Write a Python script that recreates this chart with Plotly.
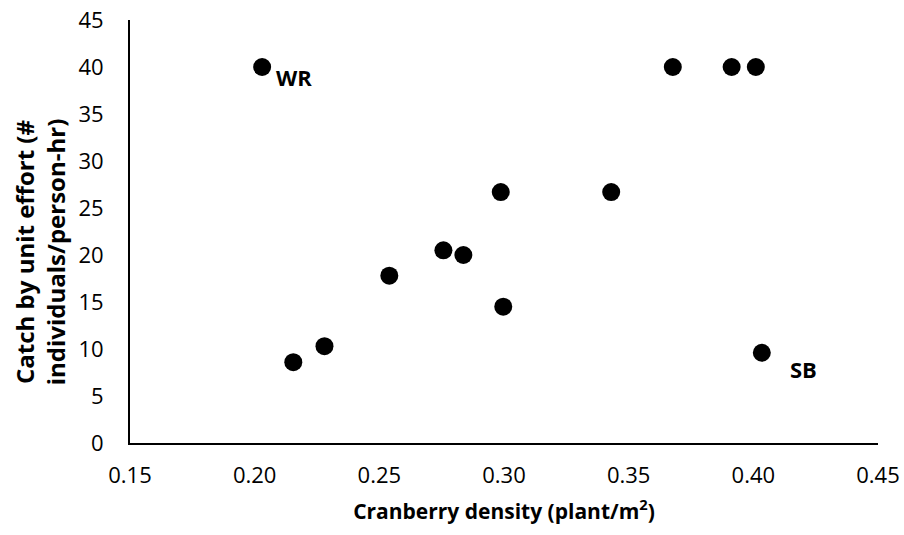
import plotly.graph_objects as go

density = [0.203, 0.2155, 0.228, 0.254, 0.2757, 0.2837, 0.2987, 0.2997, 0.343, 0.3677, 0.3913, 0.401, 0.4034]
cpue = [40.0, 8.6, 10.3, 17.8, 20.5, 20.0, 26.7, 14.5, 26.7, 40.0, 40.0, 40.0, 9.6]
labels = ["WR", "", "", "", "", "", "", "", "", "", "", "", "SB"]

x_ticks = [0.15, 0.20, 0.25, 0.30, 0.35, 0.40, 0.45]
y_ticks = [0, 5, 10, 15, 20, 25, 30, 35, 40, 45]

FONT = "Open Sans"

fig = go.Figure()
fig.add_trace(go.Scatter(
    x=density, y=cpue, mode="markers",
    marker=dict(size=18, color="black"),
    showlegend=False, hoverinfo="skip",
))

label_shift = {"WR": (32, -10), "SB": (42, -16)}
for xv, yv, lab in zip(density, cpue, labels):
    if lab:
        dx, dy = label_shift[lab]
        fig.add_annotation(x=xv, y=yv, text="<b>%s</b>" % lab, showarrow=False,
                           xshift=dx, yshift=dy,
                           font=dict(family=FONT, size=22, color="black"))

# y-axis title (two lines), placed slightly below the plot centre as in the reference
fig.add_annotation(xref="paper", yref="paper", x=-0.121, y=0.452,
                   text="<b>Catch by unit effort (#<br>individuals/person-hr)</b>",
                   textangle=-90, showarrow=False, xanchor="center", yanchor="middle",
                   font=dict(family=FONT, size=24, color="black"))

fig.update_layout(
    width=904, height=535,
    margin=dict(l=130, r=26, t=20, b=92),
    plot_bgcolor="white", paper_bgcolor="white",
    font=dict(family=FONT, size=22, color="black"),
    xaxis=dict(
        range=[0.15, 0.45], tickvals=x_ticks,
        ticktext=["%.2f" % v for v in x_ticks],
        tickfont=dict(family=FONT, size=22, color="black"),
        showgrid=False, zeroline=False, automargin=False,
        showline=True, linecolor="black", linewidth=2,
        ticks="", ticklabelstandoff=12,
        title=dict(text="<b>Cranberry density (plant/m<sup>2</sup>)</b>", standoff=16,
                   font=dict(family=FONT, size=21, color="black")),
    ),
    yaxis=dict(
        range=[0, 45], tickvals=y_ticks,
        tickfont=dict(family=FONT, size=22, color="black"),
        showgrid=False, zeroline=False, automargin=False,
        showline=True, linecolor="black", linewidth=2,
        ticks="", ticklabelstandoff=20,
    ),
)

fig.write_html("out.html")
